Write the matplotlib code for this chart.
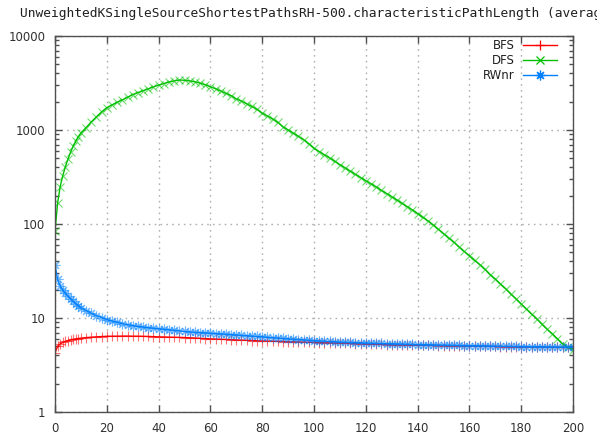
import matplotlib
matplotlib.use("Agg")
import matplotlib.pyplot as plt
from matplotlib.colors import to_rgba
from matplotlib.ticker import LogLocator, NullFormatter, FixedLocator

# x positions (generation index)
x = list(range(0, 11)) + list(range(12, 201, 2))

bfs = [4.25, 5.0, 5.3, 5.5, 5.65, 5.75, 5.85, 5.92, 6.0, 6.05, 6.1,
       6.18, 6.25, 6.3, 6.35, 6.38, 6.4, 6.4, 6.42, 6.42, 6.4,
       6.4, 6.38, 6.36, 6.33, 6.3, 6.28, 6.26, 6.24, 6.22, 6.2,
       6.16, 6.12, 6.08, 6.04, 6.0, 5.97, 5.94, 5.91, 5.88, 5.85,
       5.82, 5.79, 5.76, 5.73, 5.7, 5.68, 5.66, 5.64, 5.62, 5.6,
       5.58, 5.56, 5.54, 5.52, 5.5, 5.48, 5.46, 5.44, 5.42, 5.4,
       5.38, 5.36, 5.34, 5.32, 5.3, 5.28, 5.26, 5.24, 5.22, 5.2,
       5.19, 5.17, 5.16, 5.14, 5.13, 5.12, 5.11, 5.1, 5.09, 5.08,
       5.07, 5.06, 5.05, 5.04, 5.03, 5.02, 5.01, 5.0, 4.99, 4.98,
       4.97, 4.96, 4.95, 4.94, 4.93, 4.92, 4.91, 4.9, 4.89, 4.88,
       4.87, 4.87, 4.86, 4.86, 4.85]

dfs = [84, 166, 250, 326, 406, 490, 580, 670, 760, 850, 930,
       1060, 1220, 1380, 1560, 1730, 1850, 1970, 2090, 2230, 2380,
       2500, 2620, 2740, 2880, 3000, 3120, 3240, 3330, 3400, 3380,
       3330, 3260, 3150, 3030, 2880, 2750, 2600, 2450, 2320, 2140,
       2030, 1900, 1780, 1660, 1510, 1410, 1310, 1210, 1080, 1000,
       925, 855, 790, 715, 640, 590, 545, 505, 465, 427,
       395, 365, 337, 312, 288, 268, 248, 228, 211, 195,
       180, 166, 153, 141, 129, 118, 108, 98, 88, 79,
       71, 64, 57, 51, 46, 41, 37, 33, 29, 26,
       23, 20.5, 18, 16, 14.1, 12.5, 11, 9.8, 8.6, 7.6,
       6.8, 6.0, 5.3, 4.9, 4.6]

rwnr = [37, 25.7, 22, 19.7, 18.3, 17, 16, 15, 14.2, 13.5, 12.9,
        12.0, 11.2, 10.6, 10.1, 9.6, 9.3, 9.0, 8.7, 8.5, 8.3,
        8.15, 8.0, 7.9, 7.8, 7.7, 7.6, 7.5, 7.4, 7.3, 7.2,
        7.1, 7.05, 7.0, 6.95, 6.9, 6.84, 6.78, 6.72, 6.66, 6.6,
        6.54, 6.48, 6.42, 6.36, 6.3, 6.24, 6.18, 6.12, 6.06, 6.0,
        5.95, 5.9, 5.85, 5.8, 5.75, 5.71, 5.67, 5.63, 5.59, 5.55,
        5.52, 5.5, 5.47, 5.45, 5.42, 5.4, 5.38, 5.36, 5.34, 5.32,
        5.3, 5.28, 5.26, 5.24, 5.22, 5.21, 5.19, 5.18, 5.16, 5.15,
        5.14, 5.12, 5.11, 5.09, 5.08, 5.07, 5.06, 5.05, 5.03, 5.02,
        5.01, 5.0, 4.99, 4.98, 4.97, 4.96, 4.95, 4.95, 4.94, 4.93,
        4.92, 4.92, 4.91, 4.91, 4.9]

labels = ["BFS", "DFS", "RWnr"]
colors = ["#ff0000", "#00c000", "#0080ff"]
markers = ["+", "x", (8, 2, 0)]
msizes = [7, 5.5, 7]

title = "UnweightedKSingleSourceShortestPathsRH-500.characteristicPathLength (average)"

fig = plt.figure(figsize=(5.97, 4.38), dpi=100)
ax = fig.add_axes([55 / 597, 26 / 438, 518 / 597, 376 / 438])

for ys, lab, c, m, ms in zip([bfs, dfs, rwnr], labels, colors, markers, msizes):
    ax.plot(x, ys, color=c, linewidth=1, label=lab)
    ax.plot(x, ys, linestyle="none", marker=m, markersize=ms,
            markeredgewidth=0.8, markeredgecolor=to_rgba(c, 0.55))

ax.set_yscale("log")
ax.set_xlim(0, 200)
ax.set_ylim(1, 10000)
ax.xaxis.set_major_locator(FixedLocator(range(0, 201, 20)))
ax.yaxis.set_major_locator(FixedLocator([1, 10, 100, 1000, 10000]))
ax.yaxis.set_minor_locator(LogLocator(base=10, subs=range(2, 10)))
ax.yaxis.set_minor_formatter(NullFormatter())
ax.set_yticklabels(["1", "10", "100", "1000", "10000"])

ax.grid(True, which="major", color="#b0b0b0", linestyle=(0, (1.2, 3)), linewidth=1)
ax.tick_params(which="both", direction="in", top=True, right=True,
               labelsize=8.5, colors="#303030", pad=7)
ax.tick_params(which="major", length=5, width=1, color="#505050")
ax.tick_params(which="minor", length=3, width=1, color="#505050")
for sp in ax.spines.values():
    sp.set_color("#505050")
    sp.set_linewidth(1)

# legend drawn by hand: text right-aligned left of the sample line
rows = [0.976, 0.936, 0.896]
for yy, lab, c, m, ms in zip(rows, labels, colors, markers, msizes):
    ax.plot([0.903, 0.969], [yy, yy], color=c, linewidth=1, transform=ax.transAxes)
    ax.plot([0.936], [yy], color=c, marker=m, markersize=ms, markeredgewidth=0.9,
            transform=ax.transAxes)
    ax.text(0.888, yy, lab, transform=ax.transAxes, ha="right", va="center",
            fontsize=8.5, color="#202020")

fig.text(20 / 597, 1 - 13 / 438, title, ha="left", va="center",
         family="DejaVu Sans Mono", fontsize=9.3, color="#202020")

fig.savefig("out.png", dpi=100)
